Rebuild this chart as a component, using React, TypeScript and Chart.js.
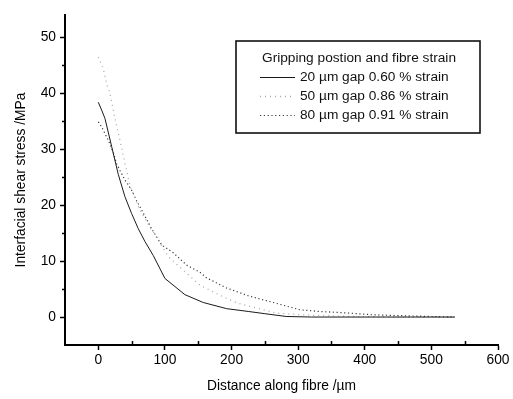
import React, { useEffect, useRef } from "react";
import { Chart, registerables } from "chart.js";

Chart.register(...registerables);

// ---- Data ----
const gap20X = [0, 5, 10, 20, 30, 40, 50, 60, 70, 82.5, 100, 130, 157.5, 192.5, 225, 250, 282, 320, 400, 480, 535];
const gap20Y = [38.4, 37.0, 35.5, 30.5, 25.5, 21.5, 18.5, 15.8, 13.5, 11.0, 6.9, 4.0, 2.6, 1.5, 1.0, 0.6, 0.1, 0, 0, 0, 0];

const gap50X = [0, 7.5, 12.5, 17.5, 25, 32.5, 37.5, 47.5, 57.5, 62.5, 77.5, 87.5, 105, 130, 152.5, 182.5, 207.5, 232, 267.5, 313, 380, 450, 535];
const gap50Y = [46.5, 44.4, 41.7, 40.0, 35.5, 31.6, 28.9, 23.5, 20.5, 19.1, 16.1, 14.3, 10.8, 8.1, 5.7, 3.9, 2.55, 1.8, 0.7, 0.35, 0.1, 0, 0];

const gap80X = [0, 5, 10, 15, 22.5, 27.5, 32.5, 40, 50, 57.5, 80, 95, 112.5, 132.5, 152.5, 162.5, 192.5, 225, 262.5, 302.5, 332, 377.5, 412, 452, 500, 535];
const gap80Y = [34.9, 34.0, 32.8, 31.6, 29.4, 27.4, 26.2, 24.5, 22.7, 20.8, 15.8, 12.9, 11.5, 9.3, 8.0, 7.0, 5.2, 3.8, 2.6, 1.3, 1.0, 0.7, 0.4, 0.25, 0.1, 0];

const seriesLabels = [
  "20 \u00b5m gap 0.60 % strain",
  "50 \u00b5m gap 0.86 % strain",
  "80 \u00b5m gap 0.91 % strain",
];
const legendTitle = "Gripping postion and fibre strain";

const xTickValues = [0, 100, 200, 300, 400, 500, 600];
const yTickValues = [0, 10, 20, 30, 40, 50];
const xMinorValues = [50, 150, 250, 350, 450, 550];
const yMinorValues = [5, 15, 25, 35, 45];

const xTitle = "Distance along fibre /\u00b5m";
const yTitle = "Interfacial shear stress /MPa";

const FONT = "'Liberation Sans', Arial, Helvetica, sans-serif";

const zip = (xs: number[], ys: number[]) => xs.map((x, i) => ({ x, y: ys[i] }));

const styles = [
  { color: "#1a1a1a", dash: [] as number[], width: 1 },
  { color: "#a8a8a8", dash: [1, 4], width: 1.3 },
  { color: "#3a3a3a", dash: [1.2, 2.6], width: 1.2 },
];

const minorTicksPlugin = {
  id: "minorTicks",
  afterDraw(chart: any) {
    const { ctx, chartArea } = chart;
    const xs = chart.scales.x;
    const ys = chart.scales.y;
    ctx.save();
    ctx.strokeStyle = "#000";
    ctx.lineWidth = 1.5;
    ctx.beginPath();
    xMinorValues.forEach((v) => {
      const px = Math.round(xs.getPixelForValue(v)) + 0.5;
      ctx.moveTo(px, chartArea.bottom);
      ctx.lineTo(px, chartArea.bottom - 4);
    });
    yMinorValues.forEach((v) => {
      const py = Math.round(ys.getPixelForValue(v)) + 0.5;
      ctx.moveTo(chartArea.left, py);
      ctx.lineTo(chartArea.left - 3, py);
    });
    ctx.stroke();
    ctx.restore();
  },
};

const boxLegendPlugin = {
  id: "boxLegend",
  afterDraw(chart: any) {
    const { ctx } = chart;
    const left = 236;
    const top = 41;
    const right = 480;
    const bottom = 133;
    ctx.save();
    ctx.strokeStyle = "#111";
    ctx.lineWidth = 1.6;
    ctx.strokeRect(left, top, right - left, bottom - top);
    ctx.fillStyle = "#111";
    ctx.font = `13.7px ${FONT}`;
    ctx.textBaseline = "middle";
    ctx.textAlign = "left";
    ctx.fillText(legendTitle, 262, 58);
    const rows = [77, 96, 115];
    seriesLabels.forEach((label, i) => {
      const st = styles[i];
      ctx.save();
      ctx.strokeStyle = st.color;
      ctx.lineWidth = st.width;
      ctx.setLineDash(st.dash);
      ctx.beginPath();
      ctx.moveTo(260, rows[i] + 0.5);
      ctx.lineTo(295, rows[i] + 0.5);
      ctx.stroke();
      ctx.restore();
      ctx.fillText(label, 300, rows[i]);
    });
    ctx.restore();
  },
};

export default function App() {
  const canvasRef = useRef<HTMLCanvasElement | null>(null);

  useEffect(() => {
    if (!canvasRef.current) return;
    const datasets = [zip(gap20X, gap20Y), zip(gap50X, gap50Y), zip(gap80X, gap80Y)].map((d, i) => ({
      label: seriesLabels[i],
      data: d,
      borderColor: styles[i].color,
      borderWidth: styles[i].width,
      borderDash: styles[i].dash,
      pointRadius: 0,
      fill: false,
      tension: 0,
    }));

    const chart = new Chart(canvasRef.current, {
      type: "line",
      data: { datasets },
      options: {
        animation: false,
        responsive: false,
        maintainAspectRatio: false,
        layout: { padding: { left: 0, top: 15, right: 15, bottom: 0 } },
        plugins: {
          legend: { display: false },
          tooltip: { enabled: false },
        },
        scales: {
          x: {
            type: "linear",
            min: -50,
            max: 600,
            afterFit: (s: any) => {
              s.height = 54;
            },
            afterBuildTicks: (s: any) => {
              s.ticks = xTickValues.map((v) => ({ value: v }));
            },
            grid: {
              display: true,
              drawOnChartArea: false,
              drawTicks: true,
              tickLength: 5,
              tickWidth: 1.5,
              tickColor: "#000",
            },
            border: { display: true, color: "#000", width: 2 },
            ticks: {
              color: "#000",
              font: { family: FONT, size: 13.8 },
              padding: 2,
              maxRotation: 0,
              autoSkip: false,
            },
            title: {
              display: true,
              text: xTitle,
              color: "#000",
              font: { family: FONT, size: 13.8 },
              padding: { top: 0, bottom: 5 },
            },
          },
          y: {
            type: "linear",
            min: -5,
            max: 54,
            afterFit: (s: any) => {
              s.width = 65;
            },
            afterBuildTicks: (s: any) => {
              s.ticks = yTickValues.map((v) => ({ value: v }));
            },
            grid: {
              display: true,
              drawOnChartArea: false,
              drawTicks: true,
              tickLength: 5,
              tickWidth: 1.5,
              tickColor: "#000",
            },
            border: { display: true, color: "#000", width: 2 },
            ticks: {
              color: "#000",
              font: { family: FONT, size: 13.8 },
              padding: 4,
              autoSkip: false,
            },
            title: {
              display: true,
              text: yTitle,
              color: "#000",
              font: { family: FONT, size: 13.8 },
              padding: { top: 13, bottom: 0 },
            },
          },
        },
      },
      plugins: [minorTicksPlugin, boxLegendPlugin],
    });
    return () => chart.destroy();
  }, []);

  return (
    <div style={{ position: "fixed", left: 0, top: 0, width: 513, height: 399, background: "#fff" }}>
      <canvas ref={canvasRef} width={513} height={399} style={{ width: 513, height: 399, display: "block" }} />
    </div>
  );
}
